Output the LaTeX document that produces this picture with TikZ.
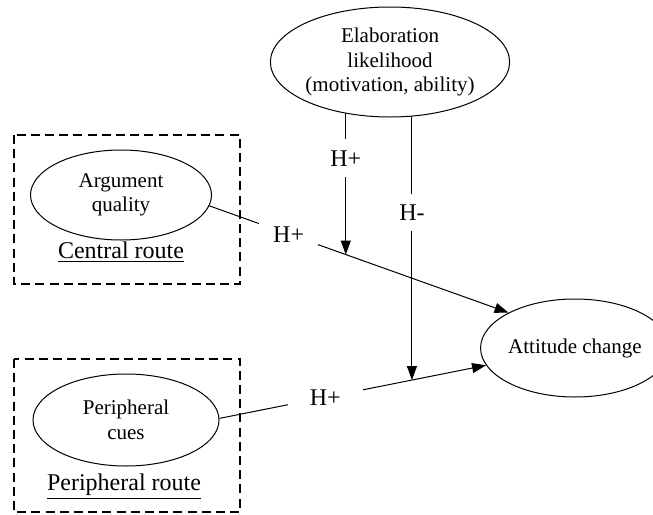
\documentclass[tikz,border=0pt]{standalone}
\usepackage{fontspec}
\setmainfont{Liberation Serif}
\usetikzlibrary{arrows.meta,shapes.geometric,backgrounds}

\begin{document}
\begin{tikzpicture}[x=0.5pt, y=-0.5pt,
    construct/.style={draw, ellipse, line width=0.5pt, fill=white, inner sep=0pt,
      align=center, font=\fontsize{10.5}{12.3}\selectfont},
    routebox/.style={draw, line width=0.9pt, dash pattern=on 4.5pt off 2.6pt},
    routename/.style={font=\fontsize{12}{14}\selectfont},
    link/.style={line width=0.5pt, -{Triangle[length=7pt,width=5pt]}},
    hyp/.style={fill=white, inner sep=0pt, font=\fontsize{12}{14}\selectfont}]
  \useasboundingbox (0,0) rectangle (653,514);

  % central and peripheral routes
  \draw[routebox] (14,135) rectangle (240,284);
  \draw[routebox] (14,359) rectangle (240,512);
  \node[construct, minimum width=90.5pt, minimum height=45pt] (arg) at (121,195) {Argument\\quality};
  \node[routename] (central) at (121,252) {\underline{Central route}};
  \node[construct, minimum width=93pt, minimum height=46pt] (per) at (126,420) {Peripheral\\cues};
  \node[routename] (peripheral) at (124,487) {\underline{Peripheral route}};

  % moderator and outcome
  \node[construct, minimum width=105pt, minimum height=55pt] (elab) at (390,62)
    {Elaboration\\likelihood\\(motivation, ability)};
  \node[construct, minimum width=77.5pt, minimum height=49pt] (att) at (575,348) {Attitude change};

  % main effects
  \draw[link] (arg.-7) -- coordinate[pos=0.456] (m1)
    node[hyp, pos=0.265, minimum width=29.5pt, minimum height=11pt] (h1) {H+} (att.152);
  \draw[link] (per.1) -- coordinate[pos=0.722] (m2)
    node[hyp, pos=0.397, minimum width=37.5pt, minimum height=9pt] (h2) {H+} (att.191);

  % moderation
  \begin{scope}[on background layer]
    \draw[link] (m1 |- elab.center) -- node[hyp, pos=0.5, minimum height=19pt] (h3) {H+} (m1);
    \draw[link] (m2 |- elab.center) -- node[hyp, pos=0.473, minimum height=18.5pt] (h4) {H-} (m2);
  \end{scope}
\end{tikzpicture}
\end{document}
